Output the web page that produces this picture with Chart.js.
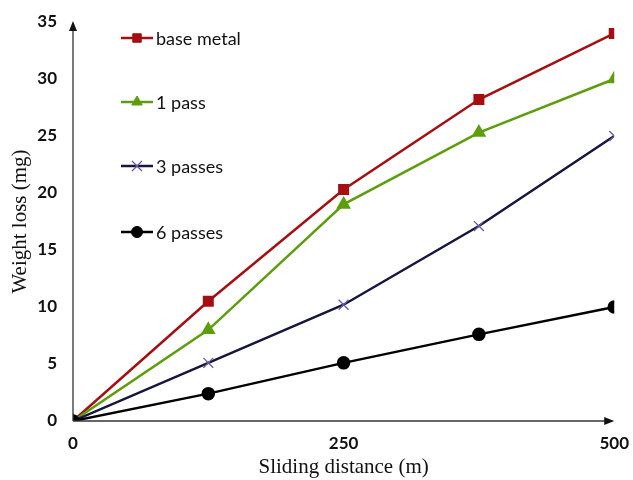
<!DOCTYPE html>
<html>
<head>
<meta charset="utf-8">
<script src="https://cdn.jsdelivr.net/npm/chart.js@4.4.0/dist/chart.umd.min.js"></script>
<style>
  html,body{margin:0;padding:0;background:#fff;}
  #wrap{width:633px;height:480px;}
</style>
</head>
<body>
<div id="wrap"><canvas id="c" width="633" height="480"></canvas></div>
<script>
const distance=[0,125,250,375,500];
const baseMetal=[0,10.5,20.3,28.2,34.0];
const onePass=[0,8.0,19.0,25.3,30.0];
const threePasses=[0,5.1,10.2,17.1,25.0];
const sixPasses=[0,2.4,5.1,7.6,10.0];
const xTicks=[0,250,500];
const seriesNames=["base metal","1 pass","3 passes","6 passes"];

const pts=arr=>arr.map((v,i)=>({x:distance[i],y:v}));

// axis lines with arrow heads
const arrows={
  id:"arrows",
  afterDraw(chart){
    const {ctx,chartArea:a}=chart;
    ctx.save();
    ctx.strokeStyle="#333";ctx.fillStyle="#111";ctx.lineWidth=1.3;
    ctx.beginPath();ctx.moveTo(a.left,a.bottom);ctx.lineTo(a.left,a.top+2);ctx.stroke();
    ctx.beginPath();ctx.moveTo(a.left,a.bottom);ctx.lineTo(a.right-2,a.bottom);ctx.stroke();
    ctx.beginPath();ctx.moveTo(a.left,a.top-1);ctx.lineTo(a.left-4,a.top+9);ctx.lineTo(a.left+4,a.top+9);ctx.closePath();ctx.fill();
    ctx.beginPath();ctx.moveTo(a.right,a.bottom);ctx.lineTo(a.right-10,a.bottom-4);ctx.lineTo(a.right-10,a.bottom+4);ctx.closePath();ctx.fill();
    ctx.restore();
  }
};

// legend drawn inside plot, left column
const sideLegend={
  id:"sideLegend",
  afterDraw(chart){
    const ctx=chart.ctx;
    const rows=[38,102,166,232];
    ctx.save();
    chart.data.datasets.forEach((ds,i)=>{
      const y=rows[i];
      ctx.strokeStyle=ds.borderColor;ctx.lineWidth=2.5;
      ctx.beginPath();ctx.moveTo(121,y);ctx.lineTo(153,y);ctx.stroke();
      ctx.fillStyle=ds.pointBackgroundColor;ctx.strokeStyle=ds.pointBorderColor;
      ctx.lineWidth=ds.pointBorderWidth||1;
      Chart.helpers.drawPoint(ctx,{pointStyle:ds.pointStyle,radius:ds.pointRadius,borderWidth:ds.pointBorderWidth||1},137,y);
      ctx.fillStyle="#111";ctx.font="18px Lato";ctx.textBaseline="middle";ctx.textAlign="left";
      ctx.fillText(ds.label,156,y+1);
    });
    ctx.restore();
  }
};

new Chart(document.getElementById("c"),{
  type:"line",
  data:{datasets:[
    {label:seriesNames[0],data:pts(baseMetal),borderColor:"#a50f12",backgroundColor:"#a50f12",pointBackgroundColor:"#a50f12",pointBorderColor:"#a50f12",pointStyle:"rect",pointRadius:6,borderWidth:2.5,order:4},
    {label:seriesNames[1],data:pts(onePass),borderColor:"#5c9e0c",backgroundColor:"#5c9e0c",pointBackgroundColor:"#5c9e0c",pointBorderColor:"#5c9e0c",pointStyle:"triangle",pointRadius:6,borderWidth:2.5,order:3},
    {label:seriesNames[2],data:pts(threePasses),borderColor:"#16163f",backgroundColor:"#16163f",pointBackgroundColor:"#6b5aa8",pointBorderColor:"#6b5aa8",pointStyle:"crossRot",pointRadius:7,pointBorderWidth:1.3,borderWidth:2.5,order:2},
    {label:seriesNames[3],data:pts(sixPasses),borderColor:"#000",backgroundColor:"#000",pointBackgroundColor:"#000",pointBorderColor:"#000",pointStyle:"circle",pointRadius:5.5,borderWidth:2.5,order:1}
  ]},
  options:{
    responsive:false,animation:false,
    layout:{padding:{top:22,right:12,left:0,bottom:0}},
    plugins:{legend:{display:false},tooltip:{enabled:false}},
    elements:{line:{tension:0}},
    scales:{
      x:{type:"linear",min:0,max:500,
        afterBuildTicks(s){s.ticks=xTicks.map(v=>({value:v}));},
        afterFit(s){s.height=59;},
        grid:{display:false},border:{display:false},
        ticks:{color:"#111",font:{family:"Lato",size:17,weight:"bold"},padding:4},
        title:{display:true,text:"Sliding distance (m)",color:"#111",font:{family:"Liberation Serif",size:21},padding:{top:4,bottom:0}}
      },
      y:{min:0,max:35,
        afterFit(s){s.width=73;},
        grid:{display:false},border:{display:false},
        ticks:{stepSize:5,color:"#111",font:{family:"Lato",size:17,weight:"bold"},padding:8},
        title:{display:true,text:"Weight loss (mg)",color:"#111",font:{family:"Liberation Serif",size:21},padding:{top:8,bottom:0}}
      }
    }
  },
  plugins:[arrows,sideLegend]
});
</script>
</body>
</html>
